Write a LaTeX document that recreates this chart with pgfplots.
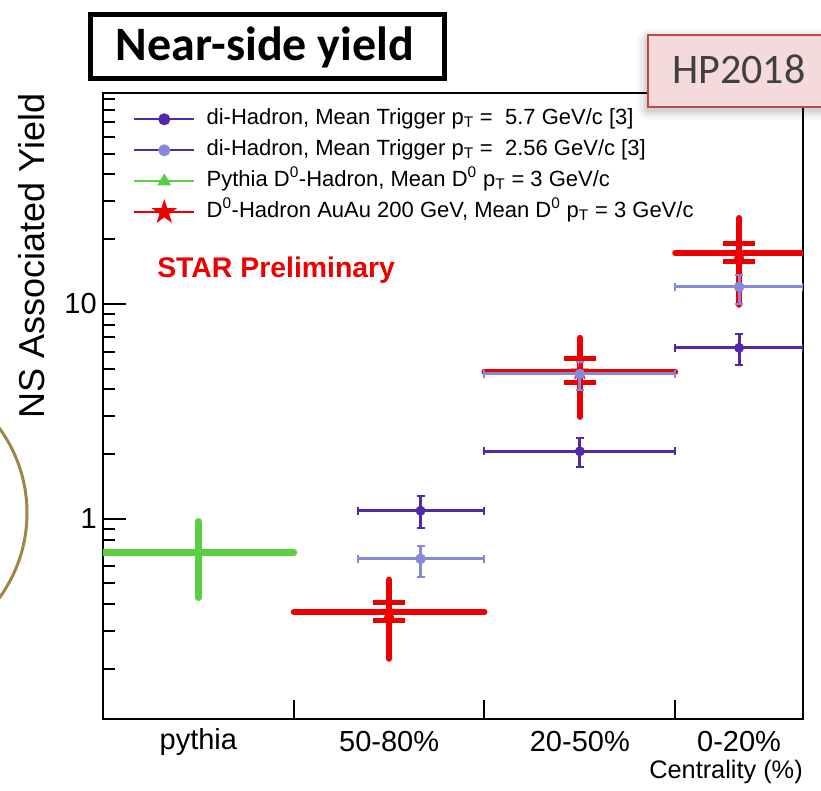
\documentclass[border=0pt]{standalone}
\usepackage{fontspec}
\setmainfont{Liberation Sans}
\newfontfamily\carlito{Carlito}
\usepackage{pgfplots}
\usepackage{pgfplotstable}
\pgfplotsset{compat=1.18}
\usetikzlibrary{plotmarks}

\definecolor{dkviolet}{RGB}{80,40,170}
\definecolor{ltviolet}{RGB}{136,136,218}
\definecolor{pyGreen}{RGB}{88,208,66}
\definecolor{starRed}{RGB}{238,0,0}
\definecolor{hpFill}{RGB}{244,218,218}
\definecolor{hpEdge}{RGB}{190,70,70}
\definecolor{ringGold}{RGB}{156,134,72}

% filled five-pointed star
\pgfdeclareplotmark{fivestar}{%
  \pgfpathmoveto{\pgfpointpolar{90}{\pgfplotmarksize}}%
  \pgfpathlineto{\pgfpointpolar{126}{0.382\pgfplotmarksize}}%
  \pgfpathlineto{\pgfpointpolar{162}{\pgfplotmarksize}}%
  \pgfpathlineto{\pgfpointpolar{198}{0.382\pgfplotmarksize}}%
  \pgfpathlineto{\pgfpointpolar{234}{\pgfplotmarksize}}%
  \pgfpathlineto{\pgfpointpolar{270}{0.382\pgfplotmarksize}}%
  \pgfpathlineto{\pgfpointpolar{306}{\pgfplotmarksize}}%
  \pgfpathlineto{\pgfpointpolar{342}{0.382\pgfplotmarksize}}%
  \pgfpathlineto{\pgfpointpolar{18}{\pgfplotmarksize}}%
  \pgfpathlineto{\pgfpointpolar{54}{0.382\pgfplotmarksize}}%
  \pgfpathclose
  \pgfusepathqfillstroke}

% di-hadron, mean trigger pT = 5.7 GeV/c
\pgfplotstableread{
x     y     xm    xp    ym    yp
1.665 1.09  0.33  0.335 0.18  0.18
2.5   2.06  0.5   0.5   0.31  0.32
3.335 6.24  0.335 0.335 1.04  1.01
}\dihadHigh

% di-hadron, mean trigger pT = 2.56 GeV/c
\pgfplotstableread{
x     y     xm    xp    ym    yp
1.665 0.651 0.33  0.335 0.114 0.098
2.5   4.72  0.5   0.5   0.74  0.65
3.335 12.0  0.335 0.335 2.0   1.6
}\dihadLow

% Pythia D0-hadron
\pgfplotstableread{
x   y     xm  xp  ym    yp
0.5 0.695 0.5 0.5 0.265 0.275
}\pythia

% D0-hadron Au+Au 200 GeV (stat and syst)
\pgfplotstableread{
x     y     xm    xp   ym    yp    sm    sp
1.5   0.369 0.5   0.5  0.146 0.152 0.034 0.038
2.5   4.84  0.5   0.5  1.86  2.11  0.55  0.71
3.335 17.3  0.335 0.45 7.4   7.8   1.6   1.9
}\dzero

\begin{document}
\begin{tikzpicture}
\useasboundingbox (0,0) rectangle (615.75pt,592.5pt);
\begin{axis}[
  at={(77.25pt,53.25pt)}, anchor=south west,
  scale only axis, width=525pt, height=469.5pt,
  xmin=0, xmax=3.67,
  ymode=log, ymin=0.117, ymax=95.8,
  axis line style={line width=1.5pt},
  every tick/.style={black, line width=1.5pt},
  xtick pos=bottom, ytick pos=left,
  xtick align=inside, ytick align=inside,
  major tick length=14.25pt,
  xtick={1,2,3}, xticklabels={},
  extra x ticks={0.5,1.5,2.5,3.335},
  extra x tick labels={pythia,50-80\%,20-50\%,0-20\%},
  extra x tick style={major tick length=0pt, tick style={draw=none}},
  ytick={1,10}, yticklabels={1,10},
  minor ytick={0.2,0.3,0.4,0.5,0.6,0.7,0.8,0.9,2,3,4,5,6,7,8,9,20,30,40,50,60,70,80,90},
  ytick style={/pgfplots/major tick length=17.25pt, /pgfplots/minor tick length=9pt},
  /pgf/number format/assume math mode=true,
  ticklabel style={font=\fontsize{21.75pt}{26pt}\selectfont},
  xticklabel style={anchor=center, yshift=-17.25pt},
  yticklabel style={anchor=east, inner sep=0pt, xshift=-4.5pt},
  ylabel={NS Associated Yield},
  ylabel style={font=\fontsize{27pt}{32pt}\selectfont, at={(axis description cs:-0.1014,1)}, anchor=east, inner sep=0pt},
  xlabel={Centrality (\%)},
  xlabel style={font=\fontsize{19pt}{23pt}\selectfont, at={(axis description cs:1,-0.0847)}, anchor=east, inner sep=0pt},
  legend image code/.code={\draw[mark repeat=2,mark phase=2,#1] plot coordinates {(0pt,0pt) (22.5pt,0pt) (45pt,0pt)};},
  legend style={at={(axis description cs:0.0429,0.977)}, anchor=north west,
    draw=none, fill=none, inner sep=0pt,
    font=\fontsize{16.5pt}{19pt}\selectfont,
    nodes={inner sep=0pt, text height=12.5pt, text depth=5pt},
    row sep=5.75pt,
    /tikz/every odd column/.append style={column sep=8.5pt}},
  legend cell align=left,
]

% D0-hadron: horizontal bin width
\addplot[forget plot, color=starRed, only marks, mark=none,
  error bars/.cd, x dir=both, x explicit, error mark=none,
  error bar style={starRed, line width=4.5pt, line cap=round}]
  table[x=x, y=y, x error minus=xm, x error plus=xp]{\dzero};
% D0-hadron: statistical errors
\addplot[forget plot, color=starRed, only marks, mark=none,
  error bars/.cd, y dir=both, y explicit, error mark=none,
  error bar style={starRed, line width=4.5pt, line cap=round}]
  table[x=x, y=y, y error minus=ym, y error plus=yp]{\dzero};
% D0-hadron: systematic errors
\addplot[forget plot, color=starRed, only marks, mark=none,
  error bars/.cd, y dir=both, y explicit, error mark=-,
  error bar style={starRed, line width=4.5pt},
  error mark options={rotate=90, starRed, line width=3.75pt, mark size=12pt}]
  table[x=x, y=y, y error minus=sm, y error plus=sp]{\dzero};
\addplot[forget plot, only marks, mark=fivestar, mark size=6.5pt, color=starRed, fill=starRed,
  mark options={draw=starRed, fill=starRed}]
  table[x=x, y=y]{\dzero};

% di-hadron, 2.56 GeV/c
\addplot[forget plot, only marks, mark=*, mark size=3.75pt, color=ltviolet, fill=ltviolet,
  error bars/.cd, x dir=both, x explicit, y dir=both, y explicit,
  error bar style={ltviolet, line width=2.25pt},
  error mark options={rotate=90, ltviolet, line width=1.5pt, mark size=3pt}]
  table[x=x, y=y, x error minus=xm, x error plus=xp, y error minus=ym, y error plus=yp]{\dihadLow};

% di-hadron, 5.7 GeV/c
\addplot[forget plot, only marks, mark=*, mark size=3.5pt, color=dkviolet, fill=dkviolet,
  error bars/.cd, x dir=both, x explicit, y dir=both, y explicit,
  error bar style={dkviolet, line width=2.25pt},
  error mark options={rotate=90, dkviolet, line width=1.5pt, mark size=3pt}]
  table[x=x, y=y, x error minus=xm, x error plus=xp, y error minus=ym, y error plus=yp]{\dihadHigh};

% Pythia
\addplot[forget plot, only marks, mark=triangle*, mark size=4.5pt, color=pyGreen, fill=pyGreen,
  error bars/.cd, x dir=both, x explicit, y dir=both, y explicit, error mark=none,
  error bar style={pyGreen, line width=5.25pt, line cap=round}]
  table[x=x, y=y, x error minus=xm, x error plus=xp, y error minus=ym, y error plus=yp]{\pythia};

\addlegendimage{dkviolet, line width=1.5pt, mark=*, mark size=3.75pt, mark options={fill=dkviolet}}
\addlegendentry{di-Hadron, Mean Trigger p\textsubscript{T} =\ \ 5.7 GeV/c [3]}
\addlegendimage{dkviolet, line width=1.5pt, mark=*, mark size=3.75pt, mark options={draw=ltviolet, fill=ltviolet}}
\addlegendentry{di-Hadron, Mean Trigger p\textsubscript{T} =\ \ 2.56 GeV/c [3]}
\addlegendimage{pyGreen, line width=1.5pt, mark=triangle*, mark size=4.5pt, mark options={fill=pyGreen}}
\addlegendentry{Pythia D\textsuperscript{0}-Hadron, Mean D\textsuperscript{0} p\textsubscript{T} = 3 GeV/c}
\addlegendimage{starRed, line width=1.5pt, mark=fivestar, mark size=7.5pt, mark options={fill=starRed}}
\addlegendentry{D\textsuperscript{0}-Hadron AuAu 200 GeV, Mean D\textsuperscript{0} p\textsubscript{T} = 3 GeV/c}
\end{axis}

% annotations, in pixel units measured from the top-left corner
\begin{scope}[x=0.75pt, y=-0.75pt, yshift=592.5pt]
  \node[anchor=west, text=starRed, font=\bfseries\fontsize{21.3pt}{25pt}\selectfont, inner sep=0pt]
    at (157,270) {STAR Preliminary};
  % title box
  \draw[line width=3.75pt, fill=white] (90,15) rectangle (444,79);
  \node[font=\carlito\bfseries\fontsize{36pt}{42pt}\selectfont, inner sep=0pt] at (265,47) {Near-side yield};
  % conference tag with soft shadow
  \foreach \s/\o in {10/0.03, 7/0.04, 4/0.05, 2/0.06}
    \fill[black, opacity=\o, rounded corners=\s pt] (648-\s-1,35-\s+4) rectangle (840,107+\s+3);
  \draw[hpEdge, line width=1.2pt, fill=hpFill] (648,35) rectangle (840,107);
  \node[font=\carlito\fontsize{31.5pt}{38pt}\selectfont, text={rgb,255:red,64;green,64;blue,64}, inner sep=0pt]
    at (739,69) {HP2018};
  % ring at the left margin
  \draw[ringGold, line width=2.25pt] (-117,513) circle[radius=144];
\end{scope}
\end{tikzpicture}
\end{document}
